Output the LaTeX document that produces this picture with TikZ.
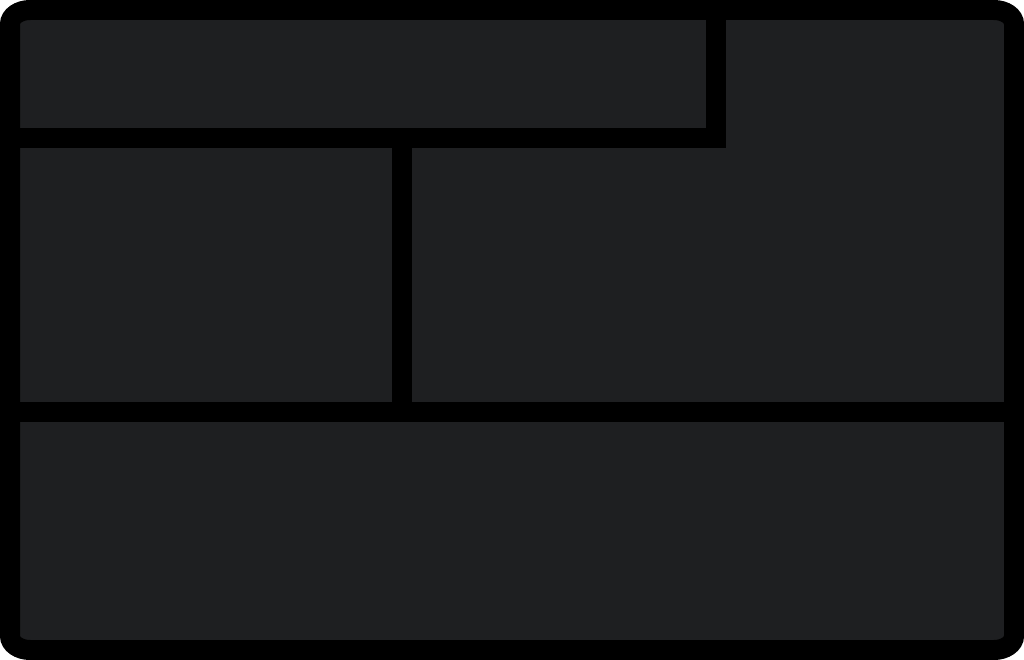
\documentclass[tikz,border=0pt]{standalone}
\begin{document}
\begin{tikzpicture}[x=1pt,y=-1pt,
  panel/.style={line width=20pt,draw=black,fill={rgb,255:red,30;green,31;blue,33}},
  divider/.style={line width=20pt,draw=black,line join=miter,line cap=butt}]
\useasboundingbox (0,0) rectangle (1024,660);
\draw[panel] (30,10) -- (994,10) arc[start angle=-90,end angle=0,x radius=20,y radius=14]
  -- (1014,636) arc[start angle=0,end angle=90,x radius=20,y radius=14]
  -- (30,650) arc[start angle=90,end angle=180,x radius=20,y radius=14]
  -- (10,24) arc[start angle=180,end angle=270,x radius=20,y radius=14] -- cycle;
\draw[divider] (10,138) -- (716,138) -- (716,10);
\draw[divider] (402,148) -- (402,412);
\draw[divider] (10,412) -- (1014,412);
\end{tikzpicture}
\end{document}
